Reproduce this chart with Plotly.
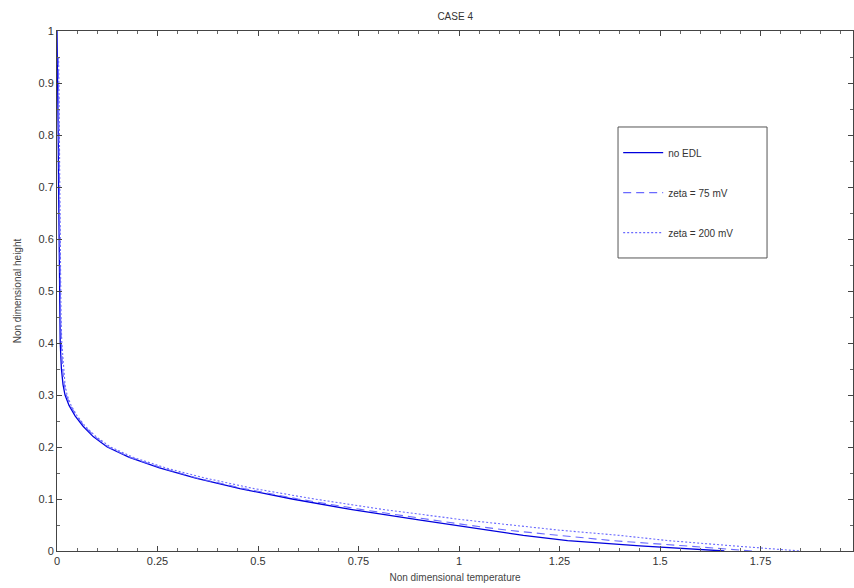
import plotly.graph_objects as go

# Non dimensional height values and temperatures
height_no_edl = [1.0, 0.95, 0.9, 0.8, 0.7, 0.6, 0.5, 0.45, 0.4, 0.35, 0.32, 0.3, 0.28, 0.26,
                 0.24, 0.22, 0.2, 0.18, 0.16, 0.14, 0.12, 0.1, 0.08, 0.06, 0.05, 0.04, 0.03,
                 0.02, 0.01, 0.0]
temp_no_edl = [0.0, 0.001, 0.002, 0.003, 0.004, 0.005, 0.006, 0.007, 0.008, 0.011, 0.015,
               0.02, 0.03, 0.045, 0.065, 0.09, 0.125, 0.18, 0.255, 0.345, 0.455, 0.585,
               0.73, 0.9, 0.99, 1.08, 1.16, 1.27, 1.45, 1.66]

height_75 = [0.95, 0.9, 0.8, 0.7, 0.6, 0.5, 0.45, 0.4, 0.35, 0.32, 0.3, 0.28, 0.26,
             0.24, 0.22, 0.2, 0.18, 0.16, 0.14, 0.12, 0.1, 0.08, 0.06, 0.05, 0.04, 0.03,
             0.02, 0.01, 0.0]
temp_75 = [0.003, 0.004, 0.005, 0.006, 0.007, 0.008, 0.009, 0.011, 0.014, 0.018,
           0.023, 0.033, 0.048, 0.068, 0.094, 0.128, 0.183, 0.26, 0.35, 0.465, 0.6,
           0.755, 0.93, 1.02, 1.12, 1.26, 1.38, 1.56, 1.73]

height_200 = [0.95, 0.9, 0.8, 0.7, 0.6, 0.5, 0.45, 0.4, 0.35, 0.32, 0.3, 0.28, 0.26,
              0.24, 0.22, 0.2, 0.18, 0.16, 0.14, 0.12, 0.1, 0.08, 0.06, 0.05, 0.04, 0.03,
              0.02, 0.01, 0.0]
temp_200 = [0.004, 0.005, 0.006, 0.007, 0.008, 0.009, 0.01, 0.012, 0.016, 0.02,
            0.025, 0.035, 0.05, 0.07, 0.097, 0.133, 0.19, 0.27, 0.37, 0.49, 0.64,
            0.81, 1.01, 1.13, 1.25, 1.40, 1.52, 1.68, 1.85]

x_tickvals = [0, 0.25, 0.5, 0.75, 1, 1.25, 1.5, 1.75]
x_ticktext = ["0", "0.25", "0.5", "0.75", "1", "1.25", "1.5", "1.75"]
y_tickvals = [0, 0.1, 0.2, 0.3, 0.4, 0.5, 0.6, 0.7, 0.8, 0.9, 1]
y_ticktext = ["0", "0.1", "0.2", "0.3", "0.4", "0.5", "0.6", "0.7", "0.8", "0.9", "1"]

fig = go.Figure()
fig.add_trace(go.Scatter(x=temp_no_edl, y=height_no_edl, mode="lines", name="no EDL",
                         line=dict(color="#0000dd", width=1.3), legendgroup="a"))
fig.add_trace(go.Scatter(x=temp_75, y=height_75, mode="lines", name="zeta = 75 mV",
                         line=dict(color="#6a6aff", width=1.1, dash="8px,5px"), legendgroup="b"))
fig.add_trace(go.Scatter(x=temp_200, y=height_200, mode="lines", name="zeta = 200 mV",
                         line=dict(color="#6a6aff", width=1.1, dash="2px,2px"), legendgroup="c"))

font = "Liberation Sans, Arial, sans-serif"
axis_common = dict(
    showgrid=False, zeroline=False, showline=True, linecolor="#444", linewidth=1,
    mirror="ticks", ticks="inside", ticklen=5, tickcolor="#444", tickwidth=1,
    tickfont=dict(family=font, size=11, color="#333"),
    minor=dict(ticks="inside", ticklen=3, tickcolor="#666", showgrid=False),
)
fig.update_xaxes(range=[0, 1.98], tickmode="array", tickvals=x_tickvals, ticktext=x_ticktext,
                 minor_dtick=0.05, minor_tick0=0,
                 title=dict(text="Non dimensional temperature", standoff=7,
                            font=dict(family=font, size=10, color="#444")),
                 **axis_common)
fig.update_yaxes(range=[0, 1], tickmode="array", tickvals=y_tickvals, ticktext=y_ticktext,
                 minor_dtick=0.05, minor_tick0=0,
                 title=dict(text="Non dimensional height", standoff=15,
                            font=dict(family=font, size=10, color="#444")),
                 **axis_common)

# legend frame (drawn as a shape so its size matches the original box)
fig.add_shape(type="rect", xref="paper", yref="paper",
              x0=0.7048, x1=0.892, y0=0.5635, y1=0.8154,
              line=dict(color="#555", width=1), fillcolor="white", layer="below")

fig.update_layout(
    width=854, height=588,
    margin=dict(l=57, r=1, t=31, b=37),
    paper_bgcolor="white", plot_bgcolor="white",
    title=dict(text="CASE 4", x=0.533, xanchor="center", y=0.972, yanchor="middle",
               font=dict(family=font, size=10, color="#333")),
    legend=dict(x=0.705, y=0.794, xanchor="left", yanchor="top",
                borderwidth=0, bgcolor="rgba(0,0,0,0)",
                font=dict(family=font, size=10, color="#333"),
                traceorder="grouped", tracegroupgap=21,
                itemwidth=40),
    showlegend=True,
)

fig.write_html("out.html")
